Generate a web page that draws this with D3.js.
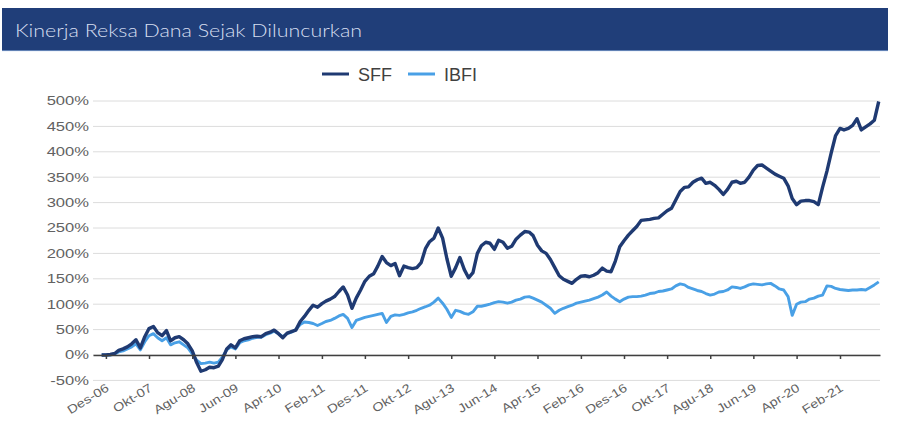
<!DOCTYPE html>
<html><head><meta charset="utf-8">
<script src="https://cdn.jsdelivr.net/npm/d3@7"></script>
<style>body{margin:0;background:#fff}</style>
</head><body><svg id="c" width="900" height="440"></svg>
<script>
const titleText = "Kinerja Reksa Dana Sejak Diluncurkan";
const seriesNames = ["SFF", "IBFI"];
const startMonth = "2006-11";
// monthly values (%), Nov-2006 .. Nov-2021
const sffValues = [
  0, 0,
  1, 3, 9, 12, 16, 22, 30, 14, 36, 52, 56, 44,
  38, 48, 28, 34, 36, 30, 22, 8, -15, -32, -29, -24,
  -25, -22, -9, 12, 20, 14, 28, 32, 34, 36, 37, 36,
  42, 45, 49, 42, 34, 43, 46, 49, 66, 76, 88, 98,
  94, 101, 106, 110, 115, 125, 134, 118, 92, 112, 128, 145,
  155, 160, 175, 194, 182, 176, 180, 156, 175, 172, 170, 172,
  182, 210, 223, 230, 250, 230, 190, 155, 172, 192, 168, 152,
  162, 200, 215, 222, 220, 208, 226, 222, 210, 214, 228, 236,
  243, 242, 235, 216, 205, 200, 188, 172, 156, 149, 145, 141,
  149, 155, 156, 154, 157, 162, 171, 165, 164, 185, 213, 225,
  236, 245, 253, 265, 266, 267, 269, 270, 277, 284, 289, 305,
  322, 330, 331, 340, 345, 348, 338, 340, 334, 326, 316, 326,
  340, 342, 338, 340, 350, 364, 373, 374, 368, 362, 356, 352,
  348, 333, 308, 296, 303, 304, 304, 302, 296, 330, 362, 398,
  432, 446, 443, 446, 452, 465, 443, 449, 455, 462, 499
];
const ibfiValues = [
  0, 0,
  0, 2, 6, 8, 12, 16, 22, 10, 26, 38, 42, 34,
  28, 34, 20, 24, 26, 20, 14, 2, -10, -17, -16, -14,
  -16, -14, -4, 10, 16, 12, 24, 28, 30, 33, 35, 35,
  40, 43, 47, 42, 36, 42, 45, 50, 60, 65, 64, 62,
  58, 62, 66, 68, 72, 77, 80, 72, 54, 68, 71, 74,
  76, 78, 80, 82, 64, 76, 79, 78, 80, 83, 85, 88,
  92, 95, 98, 104, 112, 102, 90, 74, 88, 86, 82, 80,
  85, 96, 96, 98, 100, 103, 105, 104, 102, 104, 108, 110,
  114, 115, 112, 108, 104, 98, 92, 82, 88, 92, 95, 98,
  102, 104, 106, 108, 111, 114, 118, 124, 116, 110, 105, 110,
  114, 115, 115, 116, 118, 121, 122, 125, 126, 128, 130, 136,
  140, 138, 133, 130, 127, 125, 121, 118, 120, 124, 125, 128,
  134, 133, 131, 134, 138, 140, 139, 138, 140, 141, 136, 130,
  128, 115, 78, 100, 104, 105, 110, 112, 116, 118, 136, 135,
  131, 129, 128, 127, 128, 128, 129, 128, 133, 138, 144
];
const yTicks = [-50, 0, 50, 100, 150, 200, 250, 300, 350, 400, 450, 500];
const xTickMonths = ["2006-12","2007-10","2008-08","2009-06","2010-04","2011-02","2011-12","2012-10","2013-08","2014-06","2015-04","2016-02","2016-12","2017-10","2018-08","2019-06","2020-04","2021-02"];
const xTickLabels = ["Des-06","Okt-07","Agu-08","Jun-09","Apr-10","Feb-11","Des-11","Okt-12","Agu-13","Jun-14","Apr-15","Feb-16","Des-16","Okt-17","Agu-18","Jun-19","Apr-20","Feb-21"];
const colors = ["#1f3a72", "#49a0e6"];

const parseM = d3.timeParse("%Y-%m");
const t0 = parseM(startMonth);
const dates = sffValues.map((_, i) => d3.timeMonth.offset(t0, i));
const tickDates = xTickMonths.map(parseM);

const svg = d3.select("#c");
const x = d3.scaleTime().domain([new Date(2006, 8, 1), new Date(2021, 10, 10)]).range([93, 880]);
const y = d3.scaleLinear().domain([-50, 500]).range([380.4, 101]);

// title bar
svg.append("rect").attr("x", 2).attr("y", 8).attr("width", 886).attr("height", 43).attr("fill", "#203e79");
svg.append("rect").attr("x", 2).attr("y", 50).attr("width", 886).attr("height", 1.2).attr("fill", "#8fb0de").attr("opacity", 0.6);
svg.append("text").attr("x", 15).attr("y", 37).text(titleText)
  .attr("font-family", "Lato, 'Open Sans', sans-serif").attr("font-weight", 300)
  .attr("font-size", 17).attr("fill", "#d6def0")
  .attr("textLength", 347).attr("lengthAdjust", "spacingAndGlyphs");

// legend
const legX = [322, 408];
seriesNames.forEach((n, i) => {
  svg.append("line").attr("x1", legX[i]).attr("x2", legX[i] + 27).attr("y1", 74).attr("y2", 74)
    .attr("stroke", colors[i]).attr("stroke-width", 3);
  svg.append("text").attr("x", legX[i] + 36).attr("y", 81).text(n)
    .attr("font-family", "'Liberation Sans', Arial, sans-serif").attr("font-size", 18).attr("fill", "#404040");
});

// gridlines
svg.append("g").selectAll("line").data(yTicks).join("line")
  .attr("x1", 93).attr("x2", 880).attr("y1", d => y(d)).attr("y2", d => y(d))
  .attr("stroke", "#dcdcdc").attr("stroke-width", 1);

// y labels
const yAxis = svg.append("g").attr("transform", "translate(89,0)")
  .call(d3.axisLeft(y).tickValues(yTicks).tickSize(0).tickPadding(0).tickFormat(d => d + "%"));
yAxis.select(".domain").remove();
yAxis.selectAll("text").attr("font-family", "'Liberation Sans', Arial, sans-serif").attr("font-size", 12)
  .attr("fill", "#626262")
  .each(function () { const w = this.getComputedTextLength(); this.setAttribute("textLength", w * 1.38); this.setAttribute("lengthAdjust", "spacingAndGlyphs"); });

// lines
const line = d3.line().x((d, i) => x(dates[i])).y(d => y(d)).curve(d3.curveLinear);
[ibfiValues, sffValues].forEach((vals, k) => {
  svg.append("path").datum(vals).attr("d", line).attr("fill", "none")
    .attr("stroke", k === 0 ? colors[1] : colors[0]).attr("stroke-width", k === 0 ? 2.9 : 3.4)
    .attr("stroke-linejoin", "round");
});

// x axis at 0%
const xAxis = svg.append("g").attr("transform", `translate(0,${y(0)})`)
  .call(d3.axisBottom(x).tickValues(tickDates).tickSize(4).tickSizeOuter(0).tickFormat(""));
xAxis.select(".domain").attr("stroke", "#404040").attr("stroke-width", 1.5);
xAxis.selectAll(".tick line").attr("stroke", "#404040").attr("stroke-width", 1.5);

// x labels
svg.append("g").selectAll("text").data(tickDates).join("text")
  .attr("transform", d => `translate(${x(d) + 4},390) rotate(-32)`)
  .attr("text-anchor", "end")
  .attr("font-family", "'Liberation Sans', Arial, sans-serif").attr("font-size", 12).attr("fill", "#626262")
  .text((d, i) => xTickLabels[i])
  .each(function () { const w = this.getComputedTextLength(); this.setAttribute("textLength", w * 1.2); this.setAttribute("lengthAdjust", "spacingAndGlyphs"); });
</script></body></html>
